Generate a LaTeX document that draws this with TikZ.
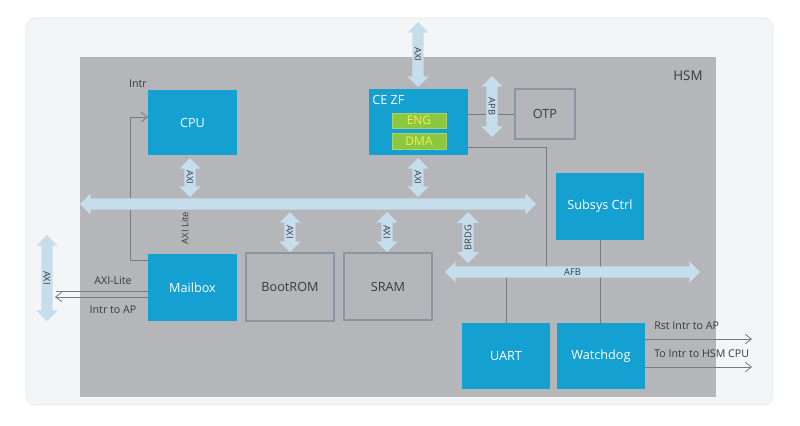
\documentclass[tikz,border=0pt]{standalone}
\usepackage{fontspec}
\setmainfont{Open Sans}
\usetikzlibrary{shapes.arrows,arrows.meta}

\definecolor{panelfill}{RGB}{244,245,247}
\definecolor{paneledge}{RGB}{226,230,234}
\definecolor{hsmgray}{RGB}{180,182,185}
\definecolor{chipblue}{RGB}{20,160,208}
\definecolor{busblue}{RGB}{198,221,236}
\definecolor{edgegray}{RGB}{138,150,160}
\definecolor{enggreen}{RGB}{141,198,63}
\definecolor{engyellow}{RGB}{240,240,90}
\definecolor{linegray}{RGB}{118,123,128}
\definecolor{txtdark}{RGB}{55,58,62}

\pgfdeclarelayer{bg}
\pgfdeclarelayer{lines}
\pgfsetlayers{bg,lines,main}

\tikzset{every picture/.style={line width=0.75pt}}
\tikzset{
  blkblue/.style={fill=chipblue, draw=none, text=white, inner sep=0pt,
    font=\fontsize{9.5}{10}\selectfont},
  blkgray/.style={fill=hsmgray, draw=edgegray, line width=0.8pt, text=txtdark, inner sep=0pt,
    font=\fontsize{9.5}{10}\selectfont},
  subblk/.style={fill=enggreen, draw=enggreen!75!white, line width=0.6pt, text=engyellow, inner sep=0pt,
    font=\fontsize{9}{9}\selectfont},
  busarrow/.style={double arrow, fill=busblue, draw=none, inner xsep=0pt, inner ysep=1.5pt,
    double arrow head extend=3.8pt, text=txtdark, font=\fontsize{7}{7}\selectfont},
  sigline/.style={draw=linegray, line width=0.6pt},
  outarrow/.style={sigline, -{Straight Barb[length=4.5pt,width=7pt]}},
  lbl/.style={inner sep=0.75pt, text=txtdark, font=\fontsize{8}{8}\selectfont}
}

\begin{document}
\begin{tikzpicture}[x=0.75pt,y=0.75pt,yscale=-1,xscale=1]
\useasboundingbox (0,0) rectangle (800,425);

\begin{pgfonlayer}{bg}
%Shape: Rounded Rect
\draw [draw=paneledge, fill=panelfill, rounded corners=7pt] (26,18) rectangle (773,405);
%Shape: Rectangle
\node [fill=hsmgray, inner sep=0pt, minimum width=477pt, minimum height=255pt] (hsm) at (398,227) {};
\end{pgfonlayer}

% Text Node
\draw (688,76) node [inner sep=0.75pt, text=txtdark, font=\fontsize{10}{10}\selectfont] (hsmlbl) {HSM};

%Shape: Blocks
\node [blkblue, minimum width=66.75pt, minimum height=48.75pt] (cpu) at (192.5,122.5) {CPU};
\node [blkblue, minimum width=74.25pt, minimum height=49.5pt] (cezf) at (418.5,122) {};
\draw (372,100) node [anchor=west, inner sep=0pt, text=white, font=\fontsize{9.5}{10}\selectfont] (cezflbl) {CE ZF};
\node [subblk, minimum width=40.5pt, minimum height=11.25pt] (eng) at (419,120.5) {ENG};
\node [subblk, minimum width=40.5pt, minimum height=12pt] (dma) at (419,141) {DMA};
\node [blkgray, minimum width=45pt, minimum height=37.5pt] (otp) at (545,114) {OTP};
\node [blkblue, minimum width=66pt, minimum height=50.25pt] (subsys) at (600,206.5) {Subsys Ctrl};
\node [blkblue, minimum width=66.75pt, minimum height=50.25pt] (mailbox) at (192.5,287.5) {Mailbox};
\node [blkgray, minimum width=66pt, minimum height=51pt] (bootrom) at (290,287) {BootROM};
\node [blkgray, minimum width=66pt, minimum height=50.25pt] (sram) at (388,286.5) {SRAM};
\node [blkblue, minimum width=66pt, minimum height=49.5pt] (uart) at (506,356) {UART};
\node [blkblue, minimum width=66pt, minimum height=49.5pt] (wdog) at (601,356) {Watchdog};

%Shape: Bus Arrows
\node [busarrow, minimum height=342pt] (axibus) at (308,204) {\vphantom{A}};
\node [busarrow, minimum height=191.25pt] (apbbus) at (572.5,272) {AFB};
\node [busarrow, rotate=-90, minimum height=48.75pt] (axitop) at (418,54.5) {AXI};
\node [busarrow, rotate=-90, minimum height=29.25pt] (axicpu) at (190,177.5) {AXI};
\node [busarrow, rotate=-90, minimum height=29.25pt] (axice) at (418,177.5) {AXI};
\node [busarrow, rotate=-90, minimum height=30pt] (axirom) at (290,232) {AXI};
\node [busarrow, rotate=-90, minimum height=30pt] (axisram) at (387,232) {AXI};
\node [busarrow, rotate=-90, minimum height=45.75pt] (apbotp) at (492,106.5) {APB};
\node [busarrow, rotate=90, minimum height=38.25pt] (brdg) at (468,237.5) {BRDG};
\node [busarrow, rotate=-90, minimum height=64.5pt] (axiap) at (47,278) {AXI};

% Text Node
\draw (138,84) node [lbl] (intrlbl) {Intr};
% Text Node
\draw (185,228) node [lbl, rotate=90, font=\fontsize{7}{7}\selectfont] (axilitev) {AXI Lite};
% Text Node
\draw (113,281) node [lbl] (axilitel) {AXI-Lite};
% Text Node
\draw (113,310) node [lbl] (intrap) {Intr to AP};
% Text Node
\draw (653,326) node [lbl, anchor=west] (rstlbl) {Rst Intr to AP};
% Text Node
\draw (653,354) node [lbl, anchor=west] (tointrlbl) {To Intr to HSM CPU};

\coordinate (intrturn) at (130,260);
\coordinate (intrin) at (148,117);
\coordinate (axlend) at (56,291);
\coordinate (intrend) at (55,297);
\coordinate (ce2apb) at (546,147);
\coordinate (rstend) at (752,339);
\coordinate (hsmend) at (752,367);

\begin{pgfonlayer}{lines}
%Straight Lines
\draw [outarrow] (mailbox.west |- intrturn) -- (intrturn) |- (intrin);
\draw [sigline] (mailbox.west |- axlend) -- (axlend);
\draw [outarrow] (mailbox.west |- intrend) -- (intrend);
\draw [sigline] (cezf.east |- otp) -- (otp);
\draw [sigline] (cezf.east |- ce2apb) -- (ce2apb) -- (ce2apb |- apbbus);
\draw [sigline] (uart.north) -- (uart.north |- apbbus);
\draw [sigline] (subsys.south) -- (wdog.north -| subsys.south);
\draw [outarrow] (wdog.east |- rstend) -- (rstend);
\draw [outarrow] (wdog.east |- hsmend) -- (hsmend);
\end{pgfonlayer}

\end{tikzpicture}
\end{document}
